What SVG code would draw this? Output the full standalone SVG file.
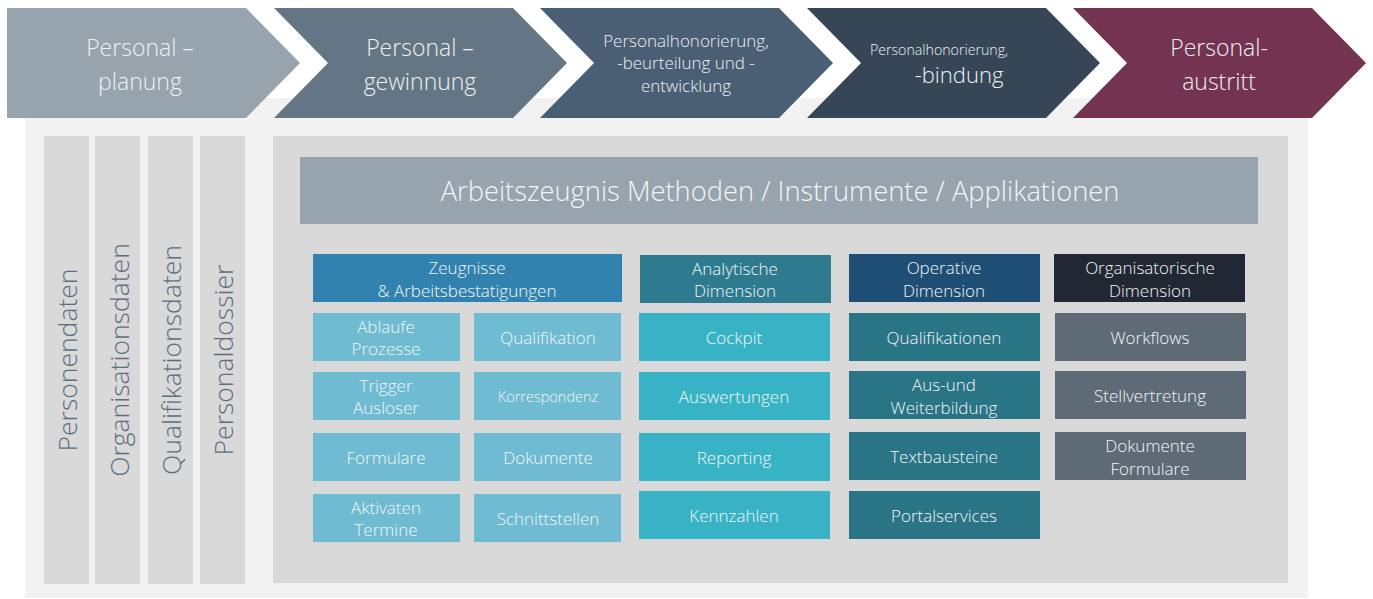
<svg xmlns="http://www.w3.org/2000/svg" width="1373" height="599" viewBox="0 0 1373 599">
<style>
text{font-family:"Open Sans","Liberation Sans",sans-serif;font-weight:300;}
.ct{fill:#EEF1F4;text-anchor:middle;}
.bt{fill:#F3F6F8;text-anchor:middle;font-size:17px;}
.bt.sm{font-size:14.5px;}
.vt{fill:#5A6E80;text-anchor:middle;font-size:26.5px;}
.col{fill:#D9D9D9;}
.a{fill:#6EBBD2;}
.b{fill:#38B3C5;}
.c{fill:#297485;}
.d{fill:#5E6A76;}
</style>
<rect id="panel" x="25" y="98" width="1283" height="500" fill="#F2F2F2"/>
<g id="chevron1"><polygon points="7,8 246,8 300,63 246,118 7,118" fill="#97A3AD"/>
<text class="ct" font-size="23" x="140" y="56">Personal –</text><text class="ct" font-size="23" x="140" y="90">planung</text></g>
<g id="chevron2"><polygon points="274,8 513,8 567,63 513,118 274,118 328,63" fill="#647585"/>
<text class="ct" font-size="23" x="420" y="56">Personal –</text><text class="ct" font-size="23" x="420" y="90">gewinnung</text></g>
<g id="chevron3"><polygon points="540,8 779,8 833,63 779,118 540,118 594,63" fill="#4A5F74"/>
<text class="ct" font-size="17" x="686" y="47">Personalhonorierung,</text><text class="ct" font-size="17" x="686" y="69">-beurteilung und -</text><text class="ct" font-size="17" x="686" y="92">entwicklung</text></g>
<g id="chevron4"><polygon points="807,8 1046,8 1100,63 1046,118 807,118 861,63" fill="#364656"/>
<text class="ct" font-size="14.2" x="939" y="55">Personalhonorierung,</text><text class="ct" font-size="22" x="959" y="83">-bindung</text></g>
<g id="chevron5"><polygon points="1073,8 1312,8 1366,63 1312,118 1073,118 1127,63" fill="#733351"/>
<text class="ct" font-size="23" x="1219" y="56">Personal-</text><text class="ct" font-size="23" x="1219" y="90">austritt</text></g>

<g id="col-personendaten"><rect class="col" x="44" y="136" width="45" height="448"/><text class="vt" transform="translate(77,360) rotate(-90)">Personendaten</text></g>
<g id="col-organisationsdaten"><rect class="col" x="95" y="136" width="45" height="448"/><text class="vt" transform="translate(129,360) rotate(-90)">Organisationsdaten</text></g>
<g id="col-qualifikationsdaten"><rect class="col" x="148" y="136" width="45" height="448"/><text class="vt" transform="translate(181,360) rotate(-90)">Qualifikationsdaten</text></g>
<g id="col-personaldossier"><rect class="col" x="200" y="136" width="45" height="448"/><text class="vt" transform="translate(233,360) rotate(-90)">Personaldossier</text></g>

<rect id="main" x="273" y="136" width="1015" height="447" fill="#D9D9D9"/>
<g id="header"><rect x="300" y="157" width="958" height="67" fill="#97A3AD"/><text x="780" y="201" fill="#F3F5F7" font-size="27.3" text-anchor="middle">Arbeitszeugnis Methoden / Instrumente / Applikationen</text></g>

<g id="hdr-zeugnisse"><rect x="313" y="254" width="309" height="48" fill="#3282B0"/><text class="bt" x="467" y="274">Zeugnisse</text><text class="bt" x="467" y="297">&amp; Arbeitsbestatigungen</text></g>
<g id="a-ablaufe"><rect class="a" x="313" y="313" width="147" height="48"/><text class="bt" x="386" y="333">Ablaufe</text><text class="bt" x="386" y="355">Prozesse</text></g>
<g id="a-qualifikation"><rect class="a" x="474" y="313" width="147" height="48"/><text class="bt" x="548" y="344">Qualifikation</text></g>
<g id="a-trigger"><rect class="a" x="313" y="372" width="147" height="48"/><text class="bt" x="386" y="392">Trigger</text><text class="bt" x="386" y="414">Ausloser</text></g>
<g id="a-korrespondenz"><rect class="a" x="474" y="372" width="147" height="48"/><text class="bt sm" x="548" y="402">Korrespondenz</text></g>
<g id="a-formulare"><rect class="a" x="313" y="433" width="147" height="48"/><text class="bt" x="386" y="464">Formulare</text></g>
<g id="a-dokumente"><rect class="a" x="474" y="433" width="147" height="48"/><text class="bt" x="548" y="464">Dokumente</text></g>
<g id="a-aktivaten"><rect class="a" x="313" y="494" width="147" height="48"/><text class="bt" x="386" y="514">Aktivaten</text><text class="bt" x="386" y="536">Termine</text></g>
<g id="a-schnittstellen"><rect class="a" x="474" y="494" width="147" height="48"/><text class="bt" x="548" y="525">Schnittstellen</text></g>

<g id="hdr-analytische"><rect x="640" y="255" width="191" height="48" fill="#2E7B90"/><text class="bt" x="735" y="275">Analytische</text><text class="bt" x="735" y="297">Dimension</text></g>
<g id="b-cockpit"><rect class="b" x="639" y="313" width="191" height="48"/><text class="bt" x="734" y="344">Cockpit</text></g>
<g id="b-auswertungen"><rect class="b" x="639" y="372" width="191" height="48"/><text class="bt" x="734" y="403">Auswertungen</text></g>
<g id="b-reporting"><rect class="b" x="639" y="433" width="191" height="48"/><text class="bt" x="734" y="464">Reporting</text></g>
<g id="b-kennzahlen"><rect class="b" x="639" y="491" width="191" height="48"/><text class="bt" x="734" y="522">Kennzahlen</text></g>

<g id="hdr-operative"><rect x="849" y="254" width="191" height="48" fill="#1F4E75"/><text class="bt" x="944" y="274">Operative</text><text class="bt" x="944" y="297">Dimension</text></g>
<g id="c-qualifikationen"><rect class="c" x="849" y="313" width="191" height="48"/><text class="bt" x="944" y="344">Qualifikationen</text></g>
<g id="c-ausweiter"><rect class="c" x="849" y="371" width="191" height="48"/><text class="bt" x="944" y="391">Aus-und</text><text class="bt" x="944" y="414">Weiterbildung</text></g>
<g id="c-textbausteine"><rect class="c" x="849" y="432" width="191" height="48"/><text class="bt" x="944" y="463">Textbausteine</text></g>
<g id="c-portalservices"><rect class="c" x="849" y="491" width="191" height="48"/><text class="bt" x="944" y="522">Portalservices</text></g>

<g id="hdr-organisatorische"><rect x="1054" y="254" width="191" height="48" fill="#222833"/><text class="bt" x="1150" y="274">Organisatorische</text><text class="bt" x="1150" y="297">Dimension</text></g>
<g id="d-workflows"><rect class="d" x="1055" y="313" width="191" height="48"/><text class="bt" x="1150" y="344">Workflows</text></g>
<g id="d-stellvertretung"><rect class="d" x="1055" y="371" width="191" height="48"/><text class="bt" x="1150" y="402">Stellvertretung</text></g>
<g id="d-dokumente"><rect class="d" x="1055" y="432" width="191" height="48"/><text class="bt" x="1150" y="452">Dokumente</text><text class="bt" x="1150" y="475">Formulare</text></g>
</svg>
